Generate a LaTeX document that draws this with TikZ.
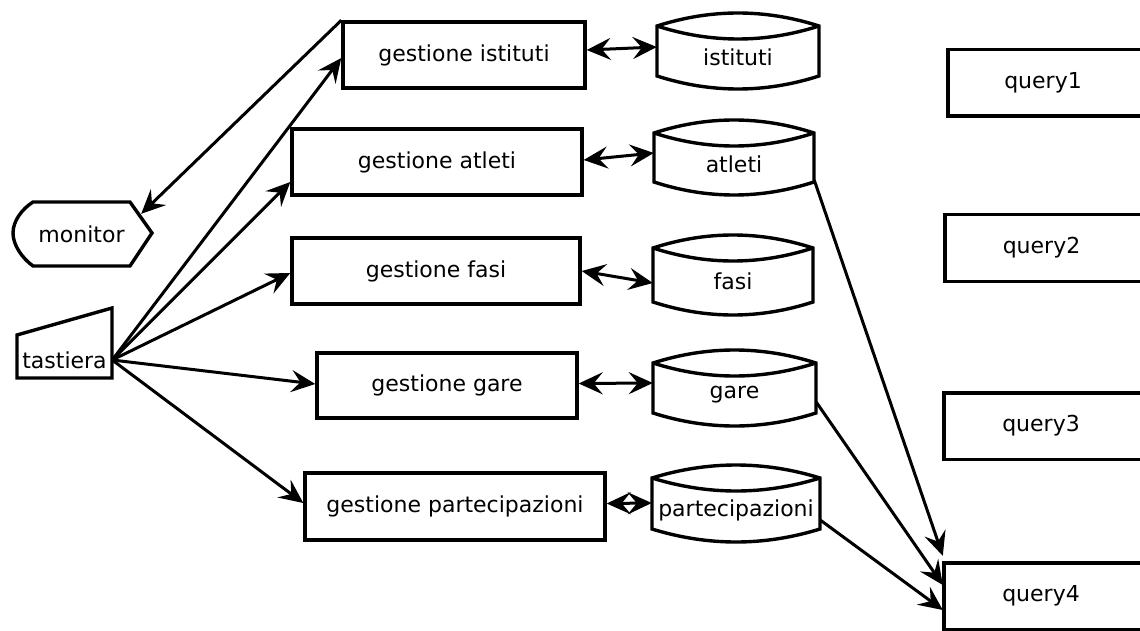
\documentclass[tikz,border=0pt]{standalone}
\usepackage{fontspec}
\setmainfont{DejaVu Sans}
\usetikzlibrary{arrows.meta,calc}
\tikzset{
  shp/.style={line width=3.4pt, line join=miter},
  box/.style={draw, line width=3.4pt, inner sep=0pt, font=\fontsize{22}{26}\selectfont},
  lbl/.style={inner sep=0pt, font=\fontsize{22}{26}\selectfont},
  tip/.tip={Stealth[length=24pt,width=22pt,inset=9pt]},
  arr/.style={line width=3pt, -tip},
  darr/.style={line width=3pt, tip-tip}
}
% #1 name, #2 x1, #3 x2, #4 y peak, #5 y bulge, #6 text
\newcommand\dbnode[6]{%
  \draw[shp] (#2,{#4+13}) .. controls ({#2+(#3-#2)/3},{#4+13-17.33}) and ({#3-(#3-#2)/3},{#4+13-17.33}) .. (#3,{#4+13})
     -- (#3,{#5-13}) .. controls ({#3-(#3-#2)/3},{#5-13+17.33}) and ({#2+(#3-#2)/3},{#5-13+17.33}) .. (#2,{#5-13}) -- cycle;
  \draw[shp] (#2,{#4+13}) .. controls ({#2+(#3-#2)/3},{#4+13+17.33}) and ({#3-(#3-#2)/3},{#4+13+17.33}) .. (#3,{#4+13});
  \node[lbl, minimum width={#3-#2}, minimum height={#5-#4-39}] (#1) at ({(#2+#3)/2},{(#4+26+#5-13)/2}) {#6};
}
\begin{document}
\begin{tikzpicture}[x=1pt,y=-1pt]
\useasboundingbox (0,0) rectangle (1140,631);
\fill[white] (0,0) rectangle (1140,631);

% process boxes
\node[box, minimum width=242, minimum height=66] (gi) at (464,55) {gestione istituti};
\node[box, minimum width=290, minimum height=66] (ga) at (437,162) {gestione atleti};
\node[box, minimum width=288, minimum height=66] (gf) at (436,271) {gestione fasi};
\node[box, minimum width=260, minimum height=65] (gg) at (447,385.5) {gestione gare};
\node[box, minimum width=300, minimum height=67] (gp) at (455,506.5) {gestione partecipazioni};

% queries (boxes run past the right edge of the picture)
\node[lbl, minimum width=190, minimum height=66] (q1) at (1043,83) {query1};
\node[lbl, minimum width=193, minimum height=66] (q2) at (1041.5,248) {query2};
\node[lbl, minimum width=194, minimum height=66] (q3) at (1041,426) {query3};
\node[lbl, minimum width=194, minimum height=66] (q4) at (1041,596) {query4};
\foreach \q in {q1,q2,q3,q4}
  \draw[shp] (\q.north west) rectangle ($(\q.south east)+(15,0)$);

% databases
\dbnode{ist}{657}{819}{13}{89}{istituti}
\dbnode{atl}{654}{814}{120}{195}{atleti}
\dbnode{fas}{653}{813}{235}{315}{fasi}
\dbnode{gar}{653}{816}{350}{426}{gare}
\dbnode{par}{652}{820}{465}{542}{partecipazioni}

% monitor
\draw[shp] (33,202) -- (130,202) -- (152,233) -- (130,266) -- (33,266)
   .. controls (22,258) and (13,245) .. (13,233) .. controls (13,221) and (22,209) .. (33,202) -- cycle;
\node[lbl, minimum width=97, minimum height=64] (mon) at (81.5,234) {monitor};

% tastiera
\draw[shp] (17,335) -- (112,308) -- (112,378) -- (17,378) -- cycle;
\node[lbl, minimum width=95, minimum height=36] (tas) at (64.5,360) {tastiera};

% connectors
\draw[arr] (gi.north west) -- ($(mon.north east)+(11,12)$);
\draw[arr] (tas.east) -- ($(gi.west)+(0,3)$);
\draw[arr] (tas.east) -- ($(ga.west)+(0,20)$);
\draw[arr] (tas.east) -- ($(gf.west)+(0,2)$);
\draw[arr] (tas.east) -- ($(gg.west)+(0,-1.5)$);
\draw[arr] (tas.east) -- ($(gp.west)+(0,-3.5)$);

\draw[darr] ($(gi.east)+(0,-5)$) -- ($(ist.west)+(0,-10.5)$);
\draw[darr] ($(ga.east)+(0,-2)$) -- ($(atl.west)+(0,-11)$);
\draw[darr] ($(gf.east)+(0,0)$) -- ($(fas.west)+(0,1.5)$);
\draw[darr] ($(gg.east)+(0,-2)$) -- ($(gar.west)+(0,-11.5)$);
\draw[darr] ($(gp.east)+(0,-3)$) -- ($(par.west)+(0,-7)$);

\draw[arr] ($(atl.east)+(0,16)$) -- ($(q4.north west)+(-1,-7)$);
\draw[arr] ($(gar.east)+(0,7.5)$) -- ($(q4.west)+(-1,-11)$);
\draw[arr] ($(par.east)+(0,10)$) -- ($(q4.west)+(-1,14)$);
\end{tikzpicture}
\end{document}
